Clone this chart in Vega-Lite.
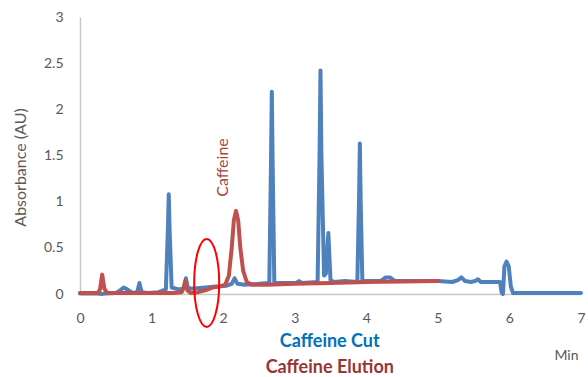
{
  "$schema": "https://vega.github.io/schema/vega-lite/v6.json",
  "width": 501,
  "height": 277,
  "autosize": {"type": "none"},
  "padding": {"left": 80, "top": 17, "right": 7, "bottom": 83},
  "config": {"view": {"stroke": null}, "font": "Lato"},
  "datasets": {
    "traces": [
      {"t": 0, "a": 0.005, "s": "Caffeine Cut"},
      {"t": 0.25, "a": 0.005, "s": "Caffeine Cut"},
      {"t": 0.3, "a": 0.0, "s": "Caffeine Cut"},
      {"t": 0.35, "a": 0.005, "s": "Caffeine Cut"},
      {"t": 0.5, "a": 0.01, "s": "Caffeine Cut"},
      {"t": 0.56, "a": 0.04, "s": "Caffeine Cut"},
      {"t": 0.61, "a": 0.07, "s": "Caffeine Cut"},
      {"t": 0.66, "a": 0.05, "s": "Caffeine Cut"},
      {"t": 0.74, "a": 0.01, "s": "Caffeine Cut"},
      {"t": 0.8, "a": 0.02, "s": "Caffeine Cut"},
      {"t": 0.83, "a": 0.12, "s": "Caffeine Cut"},
      {"t": 0.86, "a": 0.02, "s": "Caffeine Cut"},
      {"t": 0.95, "a": 0.01, "s": "Caffeine Cut"},
      {"t": 1.1, "a": 0.02, "s": "Caffeine Cut"},
      {"t": 1.2, "a": 0.05, "s": "Caffeine Cut"},
      {"t": 1.228, "a": 0.7, "s": "Caffeine Cut"},
      {"t": 1.24, "a": 1.08, "s": "Caffeine Cut"},
      {"t": 1.252, "a": 0.7, "s": "Caffeine Cut"},
      {"t": 1.28, "a": 0.07, "s": "Caffeine Cut"},
      {"t": 1.38, "a": 0.05, "s": "Caffeine Cut"},
      {"t": 1.45, "a": 0.06, "s": "Caffeine Cut"},
      {"t": 1.48, "a": 0.17, "s": "Caffeine Cut"},
      {"t": 1.51, "a": 0.06, "s": "Caffeine Cut"},
      {"t": 1.6, "a": 0.06, "s": "Caffeine Cut"},
      {"t": 1.75, "a": 0.07, "s": "Caffeine Cut"},
      {"t": 1.9, "a": 0.08, "s": "Caffeine Cut"},
      {"t": 2.05, "a": 0.09, "s": "Caffeine Cut"},
      {"t": 2.12, "a": 0.11, "s": "Caffeine Cut"},
      {"t": 2.16, "a": 0.17, "s": "Caffeine Cut"},
      {"t": 2.2, "a": 0.11, "s": "Caffeine Cut"},
      {"t": 2.3, "a": 0.1, "s": "Caffeine Cut"},
      {"t": 2.5, "a": 0.11, "s": "Caffeine Cut"},
      {"t": 2.645, "a": 0.12, "s": "Caffeine Cut"},
      {"t": 2.668, "a": 1.4, "s": "Caffeine Cut"},
      {"t": 2.68, "a": 2.19, "s": "Caffeine Cut"},
      {"t": 2.692, "a": 1.4, "s": "Caffeine Cut"},
      {"t": 2.715, "a": 0.12, "s": "Caffeine Cut"},
      {"t": 2.9, "a": 0.12, "s": "Caffeine Cut"},
      {"t": 3.02, "a": 0.12, "s": "Caffeine Cut"},
      {"t": 3.06, "a": 0.14, "s": "Caffeine Cut"},
      {"t": 3.1, "a": 0.12, "s": "Caffeine Cut"},
      {"t": 3.32, "a": 0.13, "s": "Caffeine Cut"},
      {"t": 3.347, "a": 1.5, "s": "Caffeine Cut"},
      {"t": 3.36, "a": 2.42, "s": "Caffeine Cut"},
      {"t": 3.373, "a": 1.5, "s": "Caffeine Cut"},
      {"t": 3.41, "a": 0.2, "s": "Caffeine Cut"},
      {"t": 3.435, "a": 0.22, "s": "Caffeine Cut"},
      {"t": 3.47, "a": 0.66, "s": "Caffeine Cut"},
      {"t": 3.5, "a": 0.15, "s": "Caffeine Cut"},
      {"t": 3.55, "a": 0.13, "s": "Caffeine Cut"},
      {"t": 3.7, "a": 0.14, "s": "Caffeine Cut"},
      {"t": 3.875, "a": 0.13, "s": "Caffeine Cut"},
      {"t": 3.898, "a": 1.0, "s": "Caffeine Cut"},
      {"t": 3.91, "a": 1.63, "s": "Caffeine Cut"},
      {"t": 3.922, "a": 1.0, "s": "Caffeine Cut"},
      {"t": 3.945, "a": 0.14, "s": "Caffeine Cut"},
      {"t": 4.2, "a": 0.14, "s": "Caffeine Cut"},
      {"t": 4.27, "a": 0.18, "s": "Caffeine Cut"},
      {"t": 4.33, "a": 0.18, "s": "Caffeine Cut"},
      {"t": 4.4, "a": 0.14, "s": "Caffeine Cut"},
      {"t": 4.75, "a": 0.14, "s": "Caffeine Cut"},
      {"t": 5.0, "a": 0.14, "s": "Caffeine Cut"},
      {"t": 5.2, "a": 0.13, "s": "Caffeine Cut"},
      {"t": 5.28, "a": 0.15, "s": "Caffeine Cut"},
      {"t": 5.33, "a": 0.18, "s": "Caffeine Cut"},
      {"t": 5.38, "a": 0.14, "s": "Caffeine Cut"},
      {"t": 5.46, "a": 0.13, "s": "Caffeine Cut"},
      {"t": 5.52, "a": 0.14, "s": "Caffeine Cut"},
      {"t": 5.56, "a": 0.16, "s": "Caffeine Cut"},
      {"t": 5.6, "a": 0.13, "s": "Caffeine Cut"},
      {"t": 5.7, "a": 0.13, "s": "Caffeine Cut"},
      {"t": 5.87, "a": 0.13, "s": "Caffeine Cut"},
      {"t": 5.89, "a": 0.02, "s": "Caffeine Cut"},
      {"t": 5.91, "a": 0.0, "s": "Caffeine Cut"},
      {"t": 5.93, "a": 0.3, "s": "Caffeine Cut"},
      {"t": 5.96, "a": 0.35, "s": "Caffeine Cut"},
      {"t": 5.99, "a": 0.3, "s": "Caffeine Cut"},
      {"t": 6.02, "a": 0.08, "s": "Caffeine Cut"},
      {"t": 6.05, "a": 0.01, "s": "Caffeine Cut"},
      {"t": 6.5, "a": 0.01, "s": "Caffeine Cut"},
      {"t": 7.0, "a": 0.01, "s": "Caffeine Cut"},
      {"t": 0, "a": 0.01, "s": "Caffeine Elution"},
      {"t": 0.25, "a": 0.01, "s": "Caffeine Elution"},
      {"t": 0.28, "a": 0.05, "s": "Caffeine Elution"},
      {"t": 0.31, "a": 0.21, "s": "Caffeine Elution"},
      {"t": 0.34, "a": 0.06, "s": "Caffeine Elution"},
      {"t": 0.38, "a": 0.01, "s": "Caffeine Elution"},
      {"t": 0.6, "a": 0.01, "s": "Caffeine Elution"},
      {"t": 1.0, "a": 0.01, "s": "Caffeine Elution"},
      {"t": 1.3, "a": 0.01, "s": "Caffeine Elution"},
      {"t": 1.42, "a": 0.02, "s": "Caffeine Elution"},
      {"t": 1.45, "a": 0.07, "s": "Caffeine Elution"},
      {"t": 1.47, "a": 0.14, "s": "Caffeine Elution"},
      {"t": 1.5, "a": 0.04, "s": "Caffeine Elution"},
      {"t": 1.55, "a": 0.01, "s": "Caffeine Elution"},
      {"t": 1.65, "a": 0.02, "s": "Caffeine Elution"},
      {"t": 1.75, "a": 0.04, "s": "Caffeine Elution"},
      {"t": 1.85, "a": 0.07, "s": "Caffeine Elution"},
      {"t": 1.95, "a": 0.08, "s": "Caffeine Elution"},
      {"t": 2.03, "a": 0.1, "s": "Caffeine Elution"},
      {"t": 2.08, "a": 0.2, "s": "Caffeine Elution"},
      {"t": 2.12, "a": 0.5, "s": "Caffeine Elution"},
      {"t": 2.15, "a": 0.8, "s": "Caffeine Elution"},
      {"t": 2.18, "a": 0.9, "s": "Caffeine Elution"},
      {"t": 2.21, "a": 0.8, "s": "Caffeine Elution"},
      {"t": 2.24, "a": 0.5, "s": "Caffeine Elution"},
      {"t": 2.28, "a": 0.25, "s": "Caffeine Elution"},
      {"t": 2.33, "a": 0.13, "s": "Caffeine Elution"},
      {"t": 2.4, "a": 0.1, "s": "Caffeine Elution"},
      {"t": 2.6, "a": 0.1, "s": "Caffeine Elution"},
      {"t": 3.0, "a": 0.11, "s": "Caffeine Elution"},
      {"t": 3.5, "a": 0.12, "s": "Caffeine Elution"},
      {"t": 4.0, "a": 0.13, "s": "Caffeine Elution"},
      {"t": 4.5, "a": 0.135, "s": "Caffeine Elution"},
      {"t": 5.01, "a": 0.14, "s": "Caffeine Elution"}
    ],
    "ellipse": [{"t": 1.77, "a": 0.12}],
    "peaklabel": [{"t": 2.0, "a": 1.37, "label": "Caffeine"}],
    "legend": [
      {"t": 3.49, "a": -0.52, "label": "Caffeine Cut", "s": "Caffeine Cut"},
      {"t": 3.49, "a": -0.8, "label": "Caffeine Elution", "s": "Caffeine Elution"}
    ]
  },
  "layer": [
    {
      "data": {"name": "traces"},
      "mark": {"type": "line", "strokeWidth": 4, "strokeJoin": "round", "strokeCap": "round"},
      "encoding": {
        "x": {
          "field": "t", "type": "quantitative",
          "scale": {"domain": [0, 7], "nice": false, "zero": false},
          "axis": {
            "values": [0, 1, 2, 3, 4, 5, 6, 7], "format": "d", "grid": false, "ticks": false,
            "labelFlush": false,
            "labelFontSize": 14, "labelColor": "#595959", "labelPadding": 17,
            "domainColor": "#C8C8C8", "domainWidth": 1.5,
            "title": "Min", "titleFontSize": 14, "titleFontWeight": "normal", "titleColor": "#595959",
            "titleX": 498, "titleY": 61, "titleAlign": "right", "titleBaseline": "middle", "titleAnchor": "end"
          }
        },
        "y": {
          "field": "a", "type": "quantitative",
          "scale": {"domain": [0, 3], "nice": false},
          "axis": {
            "values": [0, 0.5, 1, 1.5, 2, 2.5, 3], "format": "~g", "grid": false, "ticks": false,
            "labelFontSize": 14, "labelColor": "#595959", "labelPadding": 17,
            "domainColor": "#C8C8C8", "domainWidth": 1.5,
            "title": "Absorbance (AU)", "titleFontSize": 16, "titleFontWeight": "normal", "titleColor": "#595959",
            "titleX": -60, "titleY": 150, "titleBaseline": "middle", "titleAlign": "center"
          }
        },
        "color": {
          "field": "s", "type": "nominal",
          "scale": {"domain": ["Caffeine Cut", "Caffeine Elution"], "range": ["#4F81BD", "#C0504D"]},
          "legend": null
        },
        "order": {"field": "t", "type": "quantitative"}
      }
    },
    {
      "data": {"name": "ellipse"},
      "mark": {
        "type": "point", "filled": false, "stroke": "#FF0000", "strokeWidth": 2, "opacity": 1,
        "shape": "M -0.284 0 A 0.284 1 0 1 0 0.284 0 A 0.284 1 0 1 0 -0.284 0 Z",
        "size": 7744
      },
      "encoding": {
        "x": {"field": "t", "type": "quantitative"},
        "y": {"field": "a", "type": "quantitative"}
      }
    },
    {
      "data": {"name": "peaklabel"},
      "mark": {"type": "text", "angle": 270, "fontSize": 16, "color": "#A5443F", "align": "center", "baseline": "middle"},
      "encoding": {
        "x": {"field": "t", "type": "quantitative"},
        "y": {"field": "a", "type": "quantitative"},
        "text": {"field": "label"}
      }
    },
    {
      "data": {"name": "legend"},
      "mark": {"type": "text", "fontSize": 18, "fontWeight": "bold", "align": "center", "baseline": "middle"},
      "encoding": {
        "x": {"field": "t", "type": "quantitative"},
        "y": {"field": "a", "type": "quantitative"},
        "text": {"field": "label"},
        "color": {
          "field": "s", "type": "nominal",
          "scale": {"domain": ["Caffeine Cut", "Caffeine Elution"], "range": ["#0070C0", "#953735"]},
          "legend": null
        }
      }
    }
  ],
  "resolve": {"scale": {"color": "independent"}}
}
